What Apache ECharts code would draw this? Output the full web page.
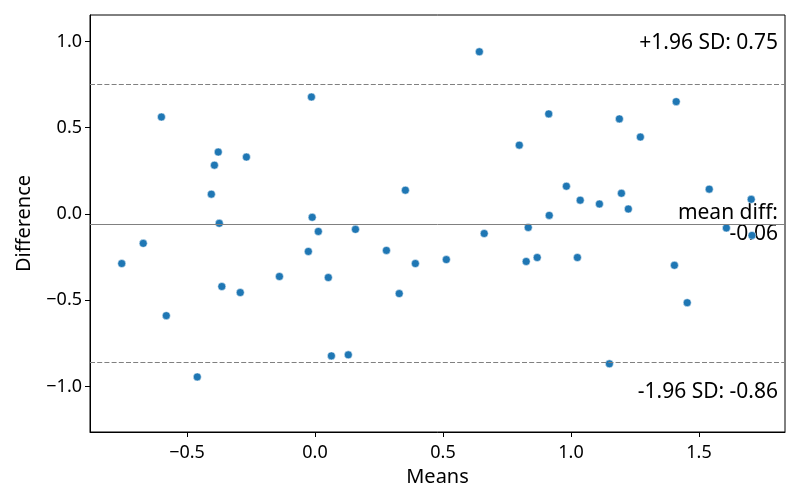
<!DOCTYPE html>
<html>
<head>
<meta charset="utf-8">
<script src="https://cdn.jsdelivr.net/npm/echarts@6/dist/echarts.min.js"></script>
<style>html,body{margin:0;padding:0;background:#fff}#c{width:800px;height:500px}</style>
</head>
<body>
<div id="c"></div>
<script>
const means = [-0.600,-0.014,-0.378,-0.393,-0.268,-0.405,-0.374,-0.011,0.013,-0.026,-0.755,-0.671,-0.581,-0.364,-0.292,-0.139,-0.460,0.642,0.353,0.798,0.913,0.052,0.158,0.064,0.130,0.279,0.329,0.392,0.513,0.661,0.833,0.825,0.868,0.915,1.189,1.271,1.411,0.982,1.036,1.111,1.197,1.224,1.540,1.704,1.607,1.707,1.025,1.404,1.454,1.150];
const diffs = [0.562,0.678,0.359,0.283,0.330,0.115,-0.054,-0.019,-0.101,-0.217,-0.287,-0.170,-0.589,-0.420,-0.455,-0.362,-0.944,0.940,0.138,0.399,0.580,-0.368,-0.089,-0.822,-0.816,-0.211,-0.461,-0.287,-0.264,-0.113,-0.078,-0.275,-0.252,-0.008,0.551,0.446,0.651,0.161,0.080,0.058,0.120,0.029,0.144,0.085,-0.081,-0.124,-0.252,-0.297,-0.514,-0.868];
const meanDiff = -0.055;
const upperLimit = 0.75;
const lowerLimit = -0.86;
const xTicks = [-0.5, 0.0, 0.5, 1.0, 1.5];
const yTicks = [-1.0, -0.5, 0.0, 0.5, 1.0];
const xRange = [-0.879, 1.836];
const yRange = [-1.263, 1.153];

const FONT = '"Noto Sans", sans-serif';
const fmt = v => (v < 0 ? '\u2212' : '') + Math.abs(v).toFixed(1);
const points = means.map((m, i) => [m, diffs[i]]);

const chart = echarts.init(document.getElementById('c'), null, {renderer: 'canvas'});
const axisCommon = {
  axisLine: {show: true, onZero: false, lineStyle: {color: '#000', width: 1}},
  axisTick: {show: true, length: 5, lineStyle: {color: '#000', width: 1}},
  splitLine: {show: false},
  nameTextStyle: {color: '#000', fontSize: 20, fontFamily: FONT}
};
const annot = (text, top) => ({type: 'text', right: 800 - 778, top: top,
  style: {text: text, font: '21px ' + FONT, fill: '#000', align: 'right', textAlign: 'right'}});
chart.setOption({
  animation: false,
  backgroundColor: '#fff',
  grid: {left: 90, right: 15, top: 15, bottom: 68, show: true, borderColor: '#000', borderWidth: 1, backgroundColor: 'transparent'},
  xAxis: Object.assign({}, axisCommon, {
    type: 'value', min: xRange[0], max: xRange[1],
    name: 'Means', nameLocation: 'middle', nameGap: 34,
    axisTick: Object.assign({}, axisCommon.axisTick, {customValues: xTicks}),
    axisLabel: {customValues: xTicks, formatter: fmt, color: '#000', fontSize: 18, fontFamily: FONT, margin: 12}
  }),
  yAxis: Object.assign({}, axisCommon, {
    type: 'value', min: yRange[0], max: yRange[1],
    name: 'Difference', nameLocation: 'middle', nameGap: 56, nameRotate: 90,
    axisTick: Object.assign({}, axisCommon.axisTick, {customValues: yTicks}),
    axisLabel: {customValues: yTicks, formatter: fmt, color: '#000', fontSize: 18, fontFamily: FONT, margin: 8}
  }),
  series: [{
    type: 'scatter',
    data: points,
    symbolSize: 8,
    itemStyle: {color: '#1f77b4', borderColor: '#fff', borderWidth: 0.5, opacity: 1},
    markLine: {
      silent: true, symbol: 'none', animation: false,
      label: {show: false},
      data: [
        {yAxis: meanDiff, lineStyle: {color: 'gray', width: 1, type: 'solid'}},
        {yAxis: upperLimit, lineStyle: {color: 'gray', width: 1, type: [5, 2.2]}},
        {yAxis: lowerLimit, lineStyle: {color: 'gray', width: 1, type: [5, 2.2]}}
      ]
    },
    z: 3
  }],
  graphic: [
    annot('+1.96 SD: ' + upperLimit.toFixed(2), 33),
    annot('mean diff:', 203),
    annot(meanDiff.toFixed(2), 224),
    annot('-1.96 SD: ' + lowerLimit.toFixed(2), 382)
  ]
});
</script>
</body>
</html>
